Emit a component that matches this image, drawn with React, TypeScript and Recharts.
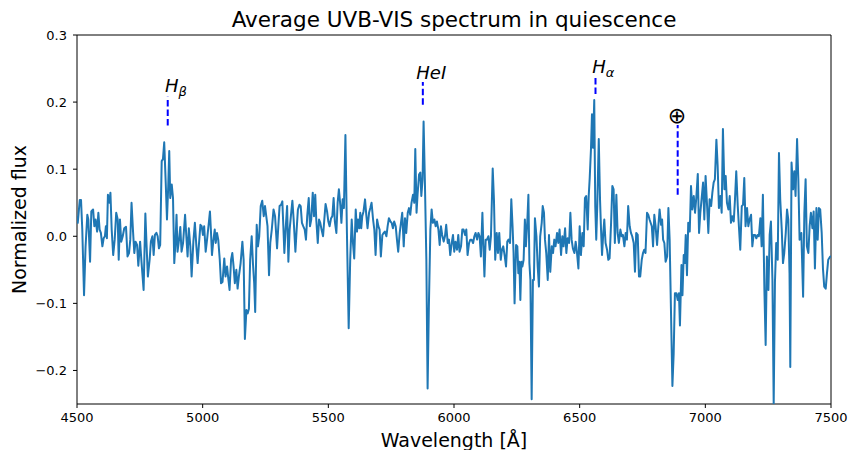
import React from 'react';
import { LineChart, Line, XAxis, YAxis, ReferenceLine, ReferenceDot, ReferenceArea } from 'recharts';

type Pt = [number, number];

// wavelength [Å], normalized flux
const SPEC_BLUE: Pt[] = [
  [4500, 0.030], [4503, 0.020], [4511, 0.054], [4516, 0.054], [4521, 0.010], [4528, -0.088], [4534, -0.016],
  [4541, 0.032], [4545, 0.025], [4552, -0.038], [4557, 0.037], [4564, 0.040], [4569, 0.015], [4574, 0.025],
  [4580, 0.007], [4585, 0.035], [4590, 0.010], [4595, 0.005], [4601, -0.015], [4606, -0.003], [4611, 0.000],
  [4615, 0.015], [4619, -0.003], [4623, 0.062], [4629, 0.050], [4633, 0.065], [4638, 0.010], [4644, -0.028],
  [4650, -0.005], [4656, 0.035], [4662, 0.025], [4666, -0.035], [4671, 0.025], [4676, -0.008], [4682, 0.000],
  [4688, 0.012], [4695, 0.014], [4701, -0.030], [4707, -0.025], [4712, -0.005], [4717, 0.050], [4723, 0.007],
  [4728, -0.025], [4733, -0.008], [4739, -0.013], [4744, -0.044], [4751, -0.008], [4757, -0.040], [4765, -0.080],
  [4772, 0.034], [4777, -0.015], [4782, -0.060], [4789, -0.035], [4794, -0.008], [4800, 0.000], [4805, -0.028],
  [4810, 0.002], [4816, 0.005], [4821, 0.000], [4826, -0.018], [4831, -0.013], [4837, 0.112], [4842, 0.115],
  [4847, 0.140], [4853, 0.080], [4858, 0.025], [4863, 0.075], [4867, 0.127], [4871, 0.057], [4877, 0.077],
  [4882, 0.057], [4887, -0.040], [4892, -0.008], [4896, 0.032], [4900, -0.023], [4906, -0.005], [4911, 0.014],
  [4916, -0.023], [4922, -0.010], [4930, 0.032], [4935, 0.000], [4940, -0.030], [4945, 0.012], [4951, -0.015],
  [4956, -0.060], [4963, -0.008], [4969, 0.020], [4975, -0.015], [4980, -0.040], [4985, -0.013], [4991, 0.017],
  [4996, 0.015], [5001, 0.002], [5006, 0.015], [5012, -0.023], [5018, -0.003], [5025, 0.022], [5029, 0.037],
  [5033, 0.007], [5037, -0.028], [5042, -0.008], [5048, 0.010], [5052, -0.010], [5057, 0.005], [5062, -0.005],
  [5068, -0.035], [5073, -0.070], [5079, -0.068], [5086, -0.033], [5091, -0.060], [5097, -0.045], [5102, -0.063],
  [5107, -0.080], [5113, -0.035], [5118, -0.025], [5123, -0.045], [5128, -0.070], [5134, -0.050], [5139, -0.078],
  [5144, -0.060], [5151, -0.040], [5158, -0.008], [5163, -0.035], [5168, -0.153], [5174, -0.110], [5179, -0.115],
  [5184, -0.108], [5189, -0.035], [5195, 0.000], [5200, -0.040], [5205, -0.070], [5209, -0.113], [5215, 0.017],
  [5220, -0.015], [5225, 0.000], [5231, 0.045], [5237, 0.053], [5243, 0.030], [5248, 0.045], [5253, 0.030],
  [5258, 0.015], [5264, -0.058],
];

const SPEC_GREEN: Pt[] = [
  [5269, -0.010], [5275, 0.010], [5282, 0.040], [5288, 0.030], [5296, -0.018], [5301, 0.015], [5306, 0.045],
  [5312, 0.047], [5317, 0.052], [5321, 0.015], [5325, -0.025], [5330, 0.010], [5336, 0.045], [5341, -0.038],
  [5346, 0.010], [5351, 0.030], [5357, 0.053], [5362, 0.025], [5369, -0.023], [5374, 0.010], [5379, 0.040],
  [5385, 0.047], [5390, 0.045], [5395, 0.020], [5400, 0.015], [5406, 0.010], [5411, -0.005], [5416, 0.030],
  [5422, 0.057], [5427, 0.015], [5432, 0.025], [5438, 0.065], [5443, 0.030], [5448, 0.062], [5452, 0.025],
  [5458, -0.010], [5463, 0.025], [5468, 0.020], [5473, 0.010], [5479, 0.000], [5484, 0.025], [5489, 0.048],
  [5495, 0.037], [5500, 0.022], [5505, 0.015], [5511, 0.027], [5516, 0.030], [5521, 0.057], [5526, 0.022],
  [5532, 0.005], [5537, 0.050], [5542, 0.070], [5548, 0.045], [5552, 0.020], [5557, 0.055], [5562, 0.042],
  [5568, 0.151], [5574, 0.005], [5581, -0.137], [5587, -0.035], [5593, 0.025], [5598, -0.010], [5603, -0.033],
  [5609, 0.040], [5614, 0.007], [5618, 0.025], [5623, 0.012], [5627, 0.035], [5631, 0.012], [5635, 0.030],
  [5640, 0.037], [5646, 0.055], [5651, 0.032], [5656, 0.012], [5662, 0.035], [5667, 0.042], [5672, 0.050],
  [5678, 0.025], [5683, 0.010], [5688, -0.028], [5694, 0.025], [5699, 0.015], [5704, 0.010], [5709, -0.030],
  [5715, 0.002], [5720, 0.005], [5725, 0.007], [5731, 0.000], [5736, 0.015], [5741, 0.027], [5747, 0.022],
  [5752, 0.020], [5757, 0.012], [5762, 0.022], [5768, 0.015], [5773, -0.005], [5778, -0.023], [5784, 0.005],
  [5789, 0.020], [5794, 0.035], [5800, -0.015], [5805, 0.027], [5810, 0.005], [5816, 0.035], [5821, 0.042],
  [5826, 0.032], [5831, 0.050], [5837, 0.062], [5842, 0.050], [5846, 0.130], [5851, 0.035], [5855, 0.062],
  [5861, 0.092], [5866, 0.095], [5870, 0.060], [5875, 0.085], [5879, 0.171], [5884, 0.085], [5890, -0.035],
  [5895, -0.227], [5900, -0.105], [5906, 0.010], [5911, 0.040], [5916, 0.020], [5922, 0.025], [5927, 0.015],
  [5932, 0.022], [5938, 0.010], [5943, -0.013], [5948, 0.015], [5953, 0.002], [5959, -0.008], [5964, 0.000],
  [5969, 0.017], [5975, -0.010], [5980, -0.005], [5985, -0.028], [5991, -0.010], [5996, 0.002], [6001, -0.023],
  [6006, -0.008], [6012, -0.020], [6017, 0.002], [6022, -0.023],
];

const SPEC_RED: Pt[] = [
  [6028, -0.015], [6033, 0.010], [6038, 0.010], [6044, 0.002], [6049, 0.010], [6054, -0.028], [6060, -0.010],
  [6065, -0.005], [6070, -0.005], [6076, -0.010], [6081, 0.000], [6086, 0.005], [6092, -0.005], [6097, 0.005],
  [6102, 0.000], [6107, -0.030], [6113, 0.035], [6117, -0.015], [6121, -0.060], [6126, -0.005], [6131, -0.005],
  [6137, 0.000], [6142, -0.020], [6147, 0.000], [6154, 0.101], [6159, 0.054], [6164, -0.035], [6170, 0.005],
  [6175, -0.025], [6180, 0.005], [6186, -0.035], [6191, -0.020], [6196, -0.015], [6202, -0.030], [6207, -0.045],
  [6212, -0.008], [6217, -0.005], [6223, -0.010], [6228, 0.055], [6233, 0.015], [6237, -0.025], [6241, -0.100],
  [6247, -0.013], [6252, -0.015], [6256, -0.055], [6260, -0.038], [6264, -0.095], [6268, -0.038], [6272, -0.045],
  [6277, -0.035], [6282, 0.025], [6286, -0.015], [6292, 0.025], [6296, 0.062], [6300, -0.040], [6304, -0.065],
  [6309, -0.243], [6314, -0.065], [6318, -0.065], [6322, 0.027], [6328, 0.000], [6333, -0.045], [6338, -0.075],
  [6343, 0.000], [6349, 0.020], [6353, 0.045], [6358, 0.035], [6362, -0.005], [6367, -0.025], [6373, -0.065],
  [6378, 0.002], [6383, -0.053], [6389, -0.015], [6394, -0.025], [6399, -0.005], [6404, -0.015], [6410, 0.005],
  [6415, -0.010], [6420, 0.010], [6426, -0.028], [6431, 0.000], [6436, -0.015], [6442, 0.012], [6447, -0.025],
  [6452, -0.003], [6458, -0.010], [6463, 0.035], [6468, -0.005], [6473, -0.018], [6479, -0.025], [6484, -0.008],
  [6489, -0.023], [6495, -0.048], [6500, 0.015], [6505, -0.028], [6511, 0.005], [6516, -0.015], [6521, 0.057],
  [6526, 0.060], [6532, 0.010], [6536, 0.060], [6540, 0.087], [6545, 0.130], [6549, 0.182], [6553, 0.132],
  [6558, 0.203], [6562, 0.045], [6566, -0.005], [6570, 0.045], [6576, 0.145], [6581, 0.055], [6585, 0.010],
  [6589, -0.028], [6594, 0.005], [6598, 0.025], [6603, -0.010], [6609, -0.020], [6614, -0.035], [6619, -0.033],
  [6625, 0.020], [6630, 0.075], [6635, 0.070], [6640, -0.010], [6646, 0.062], [6651, 0.005], [6656, -0.010],
  [6662, 0.010], [6667, 0.000], [6672, 0.002], [6678, -0.015], [6683, 0.005], [6688, -0.005], [6693, 0.045],
  [6699, 0.015], [6704, 0.005], [6709, 0.000], [6715, -0.010], [6720, -0.053], [6725, 0.005], [6731, 0.002],
  [6736, -0.060], [6741, -0.060], [6747, -0.035], [6752, -0.025], [6757, -0.020], [6762, -0.025], [6768, 0.035],
  [6773, 0.032], [6778, 0.025],
];

const SPEC_NIR: Pt[] = [
  [6787, 0.015], [6792, -0.015], [6797, 0.032], [6802, 0.015], [6808, -0.013], [6813, 0.015], [6818, 0.040],
  [6824, 0.017], [6828, 0.025], [6832, -0.005], [6837, -0.010], [6842, -0.038], [6848, -0.030], [6853, 0.042],
  [6858, -0.005], [6863, -0.105], [6869, -0.223], [6874, -0.175], [6879, -0.085], [6885, -0.085], [6890, -0.095],
  [6895, -0.085], [6899, -0.133], [6905, -0.043], [6909, -0.088], [6914, -0.028], [6918, -0.040], [6922, 0.002],
  [6927, -0.058], [6932, 0.020], [6938, 0.007], [6943, 0.075], [6948, 0.040], [6954, 0.060], [6959, 0.035],
  [6964, 0.057], [6970, 0.093], [6975, 0.005], [6980, 0.035], [6985, 0.055], [6991, 0.080], [6996, 0.025],
  [7001, 0.090], [7007, 0.045], [7012, 0.005], [7017, 0.055], [7023, 0.045], [7028, 0.065], [7033, 0.080],
  [7038, 0.085], [7044, 0.144], [7049, 0.105], [7054, 0.042], [7060, 0.060], [7065, 0.035], [7070, 0.160],
  [7076, 0.070], [7081, 0.090], [7086, 0.050], [7092, 0.040], [7097, 0.060], [7102, 0.020], [7107, 0.030],
  [7113, 0.022], [7118, 0.055], [7123, 0.097], [7129, 0.045], [7134, 0.012], [7139, -0.020], [7145, 0.045],
  [7150, 0.047], [7155, 0.087], [7160, 0.015], [7166, 0.042], [7171, 0.015], [7176, 0.025], [7182, 0.032],
  [7187, -0.015], [7192, 0.002], [7198, 0.002], [7203, -0.003], [7208, 0.002], [7213, 0.000], [7219, 0.027],
  [7224, -0.015], [7229, 0.062], [7235, -0.080], [7240, -0.162], [7245, -0.030], [7251, -0.080], [7256, 0.002],
  [7261, 0.022], [7267, -0.065], [7272, -0.250], [7277, -0.068], [7282, -0.010], [7288, -0.035], [7293, 0.124],
  [7298, 0.055], [7304, 0.010], [7309, -0.040], [7314, -0.025], [7320, 0.005], [7325, 0.040], [7330, 0.025],
  [7335, -0.055], [7338, -0.195], [7343, 0.110], [7349, 0.070], [7354, 0.097], [7359, 0.060], [7365, 0.145],
  [7370, 0.085], [7375, -0.005], [7382, 0.005], [7389, -0.090], [7394, 0.035], [7399, 0.085], [7404, -0.015],
  [7410, -0.025], [7415, 0.015], [7420, 0.035], [7426, 0.012], [7431, 0.037], [7436, -0.048], [7442, 0.042],
  [7447, -0.005], [7452, 0.042], [7457, 0.040], [7463, 0.005], [7468, -0.048], [7473, -0.075], [7479, -0.078],
  [7484, -0.055], [7489, -0.035], [7497, -0.030], [7500, -0.030],
];

const X_TICKS = [4500, 5000, 5500, 6000, 6500, 7000, 7500];
const Y_TICKS = [-0.2, -0.1, 0, 0.1, 0.2, 0.3];

// line marker: wavelength, bottom and top of the dashed tick
const MARKERS = [
  { wl: 4861, lo: 0.165, hi: 0.208 },
  { wl: 5876, lo: 0.196, hi: 0.23 },
  { wl: 6563, lo: 0.212, hi: 0.24 },
  { wl: 6890, lo: 0.062, hi: 0.166 },
];

const MARKER_TEXT = [
  { wl: 4850, y: 0.215, main: 'H', sub: 'β', italic: true, size: 18 },
  { wl: 5850, y: 0.234, main: 'HeI', sub: '', italic: true, size: 18 },
  { wl: 6550, y: 0.243, main: 'H', sub: 'α', italic: true, size: 18 },
  { wl: 6850, y: 0.169, main: '⊕', sub: '', italic: false, size: 22 },
];

const data = [...SPEC_BLUE, ...SPEC_GREEN, ...SPEC_RED, ...SPEC_NIR].map(([wl, flux]) => ({ wl, flux }));

const fmtY = (v: number) => (v < 0 ? '\u2212' + Math.abs(v).toFixed(1) : v.toFixed(1));

const markerLabel = (m: typeof MARKER_TEXT[number]) => (props: any) => {
  const vb = props.viewBox || {};
  return (
    <text x={vb.x} y={vb.y} fontSize={m.size} fontStyle={m.italic ? 'italic' : 'normal'} fill="#000">
      {m.main}
      {m.sub && (
        <tspan dy={4} fontSize={13}>
          {m.sub}
        </tspan>
      )}
    </text>
  );
};

const App = () => {
  return (
    <div style={{ position: 'absolute', left: 0, top: 0, width: 850, height: 450, background: '#fff', fontFamily: 'DejaVu Sans' }}>
      <LineChart width={850} height={450} data={data} margin={{ top: 35, right: 19, bottom: 16, left: 27 }}>
        <XAxis
          dataKey="wl"
          type="number"
          domain={[4500, 7500]}
          ticks={X_TICKS}
          allowDataOverflow
          axisLine={false}
          tickLine={{ stroke: '#000' }}
          tickSize={4}
          tickMargin={5}
          height={30}
          tick={{ fontSize: 13, fill: '#000' }}
          label={{
            content: (p: any) => (
              <text x={p.viewBox.x + p.viewBox.width / 2} y={447} textAnchor="middle" fontSize={19} fill="#000">
                Wavelength [Å]
              </text>
            ),
          }}
        />
        <YAxis
          type="number"
          domain={[-0.25, 0.3]}
          ticks={Y_TICKS}
          allowDataOverflow
          axisLine={false}
          tickLine={{ stroke: '#000' }}
          tickSize={4}
          tickMargin={6}
          width={50}
          tickFormatter={fmtY}
          tick={{ fontSize: 13, fill: '#000' }}
          label={{
            content: (p: any) => {
              const cx = p.viewBox.x - 1;
              const cy = p.viewBox.y + p.viewBox.height / 2;
              return (
                <text x={cx} y={cy} transform={`rotate(-90, ${cx}, ${cy})`} textAnchor="middle" fontSize={19} fill="#000">
                  Normalized flux
                </text>
              );
            },
          }}
        />
        <Line dataKey="flux" stroke="#1f77b4" strokeWidth={2} dot={false} strokeLinejoin="round" isAnimationActive={false} />
        {MARKERS.map((m) => (
          <ReferenceLine
            key={m.wl}
            segment={[{ x: m.wl, y: m.lo }, { x: m.wl, y: m.hi }]}
            stroke="#0000ff"
            strokeWidth={2}
            strokeDasharray="6.5 3"
          />
        ))}
        {MARKER_TEXT.map((m) => (
          <ReferenceDot key={m.wl} x={m.wl} y={m.y} r={0} fill="none" stroke="none" label={markerLabel(m)} />
        ))}
        <ReferenceArea x1={4500} x2={7500} y1={-0.25} y2={0.3} fill="none" stroke="#000" strokeWidth={1} />
      </LineChart>
      <svg width={850} height={450} style={{ position: 'absolute', left: 0, top: 0, pointerEvents: 'none' }}>
        <text x={454} y={27} textAnchor="middle" fontSize={21.5} fill="#000">
          Average UVB-VIS spectrum in quiescence
        </text>
      </svg>
    </div>
  );
};

export default App;
